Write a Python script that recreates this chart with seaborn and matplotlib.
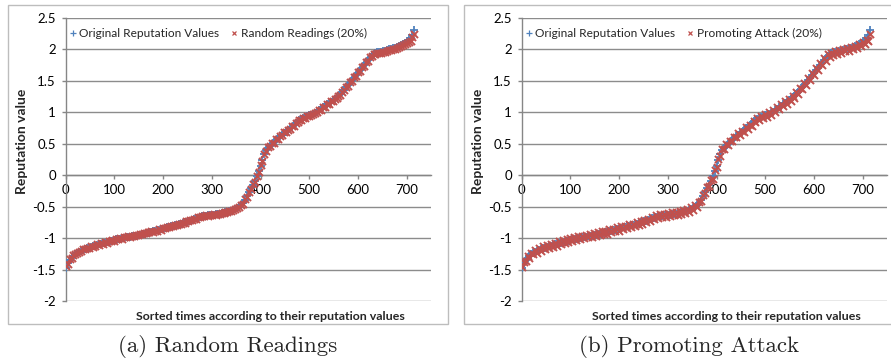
import matplotlib
matplotlib.use("Agg")
import matplotlib.pyplot as plt
from matplotlib.lines import Line2D
from matplotlib.patches import Rectangle
import numpy as np
import pandas as pd
import seaborn as sns

# Sorted reputation values, sampled every 4th ordered position (0..716)
positions = np.arange(0, 720, 4)

original_values = [
    -1.47, -1.40, -1.35, -1.31, -1.28, -1.25, -1.235, -1.22, -1.20, -1.19,
    -1.175, -1.165, -1.15, -1.14, -1.13, -1.12, -1.11, -1.10, -1.09, -1.08,
    -1.07, -1.065, -1.055, -1.045, -1.04, -1.03, -1.02, -1.015, -1.01, -1.00,
    -0.995, -0.99, -0.98, -0.975, -0.97, -0.965, -0.96, -0.95, -0.945, -0.935,
    -0.93, -0.92, -0.915, -0.905, -0.90, -0.89, -0.88, -0.875, -0.865, -0.86,
    -0.85, -0.84, -0.83, -0.825, -0.815, -0.805, -0.795, -0.79, -0.78, -0.77,
    -0.76, -0.75, -0.74, -0.73, -0.72, -0.71, -0.70, -0.685, -0.675, -0.665,
    -0.655, -0.65, -0.645, -0.64, -0.635, -0.63, -0.625, -0.62, -0.615, -0.61,
    -0.605, -0.60, -0.59, -0.585, -0.575, -0.565, -0.555, -0.54, -0.525, -0.505,
    -0.48, -0.44, -0.39, -0.33, -0.27, -0.21, -0.15, -0.09, -0.02, 0.06,
    0.15, 0.24, 0.33, 0.40, 0.44, 0.47, 0.50, 0.53, 0.56, 0.59,
    0.62, 0.645, 0.67, 0.69, 0.72, 0.745, 0.77, 0.80, 0.83, 0.855,
    0.875, 0.89, 0.905, 0.92, 0.935, 0.95, 0.96, 0.975, 0.99, 1.01,
    1.03, 1.05, 1.08, 1.10, 1.13, 1.15, 1.17, 1.19, 1.21, 1.24,
    1.26, 1.29, 1.32, 1.36, 1.40, 1.43, 1.47, 1.51, 1.55, 1.59,
    1.63, 1.67, 1.71, 1.75, 1.79, 1.83, 1.87, 1.90, 1.93, 1.945,
    1.955, 1.96, 1.965, 1.975, 1.98, 1.99, 2.00, 2.01, 2.02, 2.03,
    2.04, 2.05, 2.07, 2.09, 2.11, 2.13, 2.15, 2.18, 2.23, 2.31,
]

random_readings = [
    -1.45, -1.41, -1.34, -1.32, -1.27, -1.26, -1.23, -1.22, -1.21, -1.18,
    -1.18, -1.16, -1.16, -1.13, -1.14, -1.12, -1.10, -1.11, -1.08, -1.09,
    -1.06, -1.07, -1.05, -1.05, -1.03, -1.04, -1.01, -1.02, -1.00, -1.01,
    -0.99, -0.99, -0.97, -0.98, -0.96, -0.97, -0.95, -0.955, -0.94, -0.94,
    -0.92, -0.925, -0.91, -0.91, -0.89, -0.895, -0.88, -0.88, -0.86, -0.865,
    -0.845, -0.845, -0.825, -0.83, -0.81, -0.81, -0.79, -0.795, -0.775, -0.775,
    -0.755, -0.755, -0.735, -0.735, -0.715, -0.715, -0.695, -0.69, -0.67, -0.67,
    -0.65, -0.655, -0.64, -0.645, -0.63, -0.635, -0.62, -0.625, -0.61, -0.615,
    -0.60, -0.605, -0.585, -0.59, -0.57, -0.57, -0.55, -0.545, -0.52, -0.51,
    -0.47, -0.45, -0.38, -0.34, -0.26, -0.22, -0.14, -0.10, -0.01, 0.05,
    0.16, 0.23, 0.34, 0.39, 0.45, 0.46, 0.51, 0.52, 0.57, 0.58,
    0.63, 0.64, 0.68, 0.685, 0.725, 0.74, 0.775, 0.79, 0.835, 0.845,
    0.88, 0.88, 0.91, 0.915, 0.94, 0.945, 0.965, 0.97, 0.995, 1.00,
    1.035, 1.04, 1.085, 1.09, 1.135, 1.14, 1.175, 1.18, 1.215, 1.23,
    1.265, 1.28, 1.325, 1.35, 1.405, 1.42, 1.475, 1.50, 1.555, 1.58,
    1.635, 1.66, 1.715, 1.74, 1.795, 1.82, 1.875, 1.89, 1.92, 1.935,
    1.94, 1.945, 1.95, 1.96, 1.965, 1.975, 1.985, 1.995, 2.005, 2.015,
    2.025, 2.035, 2.05, 2.07, 2.09, 2.10, 2.12, 2.14, 2.19, 2.25,
]

promoting_attack = [
    -1.46, -1.38, -1.37, -1.28, -1.31, -1.23, -1.26, -1.19, -1.23, -1.16,
    -1.20, -1.13, -1.18, -1.11, -1.16, -1.09, -1.14, -1.07, -1.12, -1.05,
    -1.10, -1.03, -1.08, -1.02, -1.06, -1.00, -1.05, -0.98, -1.03, -0.97,
    -1.02, -0.96, -1.00, -0.95, -0.99, -0.93, -0.98, -0.92, -0.97, -0.91,
    -0.95, -0.89, -0.94, -0.88, -0.93, -0.86, -0.91, -0.85, -0.89, -0.83,
    -0.88, -0.81, -0.86, -0.80, -0.84, -0.78, -0.82, -0.77, -0.81, -0.75,
    -0.79, -0.73, -0.77, -0.71, -0.75, -0.69, -0.73, -0.66, -0.70, -0.64,
    -0.68, -0.62, -0.67, -0.61, -0.66, -0.60, -0.65, -0.59, -0.64, -0.58,
    -0.63, -0.57, -0.62, -0.55, -0.60, -0.53, -0.58, -0.51, -0.55, -0.48,
    -0.50, -0.42, -0.41, -0.31, -0.29, -0.19, -0.17, -0.07, -0.06, 0.08,
    0.13, 0.26, 0.31, 0.42, 0.42, 0.49, 0.48, 0.55, 0.54, 0.61,
    0.60, 0.67, 0.64, 0.71, 0.68, 0.76, 0.74, 0.80, 0.78, 0.87,
    0.85, 0.91, 0.88, 0.94, 0.91, 0.97, 0.93, 1.00, 0.96, 1.03,
    1.00, 1.08, 1.05, 1.13, 1.10, 1.18, 1.14, 1.21, 1.18, 1.26,
    1.22, 1.32, 1.29, 1.39, 1.37, 1.46, 1.43, 1.54, 1.51, 1.62,
    1.59, 1.70, 1.67, 1.78, 1.75, 1.86, 1.82, 1.92, 1.88, 1.95,
    1.91, 1.97, 1.93, 1.99, 1.95, 2.01, 1.97, 2.03, 1.98, 2.04,
    2.00, 2.06, 2.02, 2.09, 2.05, 2.12, 2.08, 2.15, 2.14, 2.24,
]

x_ticks = [0, 100, 200, 300, 400, 500, 600, 700]
y_ticks = [-2, -1.5, -1, -0.5, 0, 0.5, 1, 1.5, 2, 2.5]
y_tick_labels = ["-2", "-1.5", "-1", "-0.5", "0", "0.5", "1", "1.5", "2", "2.5"]

panels = [
    ("Random Readings (20%)", random_readings, "(a) Random Readings"),
    ("Promoting Attack (20%)", promoting_attack, "(b) Promoting Attack"),
]

BLUE = "#4F81BD"
RED = "#C0504D"
GRID = "#8C8C8C"
AXIS = "#868686"
FRAME = "#BDBDBD"
UI_FONT = ["Lato", "DejaVu Sans"]

sns.set_theme(style="white")
plt.rcParams["font.family"] = UI_FONT

W, H = 891, 360
fig = plt.figure(figsize=(W / 100, H / 100), dpi=100)

offset_px = 456
for k, (series_name, values, caption) in enumerate(panels):
    dx = k * offset_px
    # outer chart frame
    fig.add_artist(Rectangle(((8 + dx) / W, 1 - 324 / H), 440 / W, 319 / H,
                             transform=fig.transFigure, fill=False,
                             edgecolor=FRAME, linewidth=1.0))
    ax = fig.add_axes([(65.7 + dx) / W, 1 - 301 / H, 365.3 / W, 283 / H])
    df = pd.DataFrame({"pos": positions, "orig": original_values, "other": values})

    sns.scatterplot(data=df, x="pos", y="orig", marker="+", color=BLUE,
                    s=34, linewidth=1.3, ax=ax, zorder=3)
    sns.scatterplot(data=df, x="pos", y="other", marker="x", color=RED,
                    s=26, linewidth=1.4, ax=ax, zorder=4)

    ax.set_xlim(0, 750)
    ax.set_ylim(-2, 2.5)
    ax.set_yticks(y_ticks)
    ax.set_yticklabels(y_tick_labels)
    ax.set_xticks(x_ticks)
    ax.set_xticklabels([str(t) for t in x_ticks])
    for y in y_ticks:
        ax.axhline(y, color=GRID, linewidth=1.0, zorder=1)

    for side in ["top", "right"]:
        ax.spines[side].set_visible(False)
    ax.spines["left"].set_color(AXIS)
    ax.spines["left"].set_linewidth(1.0)
    ax.spines["bottom"].set_position(("data", 0))
    ax.spines["bottom"].set_color(AXIS)
    ax.spines["bottom"].set_linewidth(1.0)
    ax.spines["bottom"].set_zorder(2)

    ax.tick_params(axis="y", direction="out", length=3, width=1.0, color=AXIS,
                   labelsize=9.5, labelcolor="black", pad=4, left=True)
    ax.tick_params(axis="x", direction="out", length=3, width=1.0, color=AXIS,
                   labelsize=9.5, labelcolor="black", pad=3, bottom=True)
    ax.set_xlabel("")
    ax.set_ylabel("")

    handles = [
        Line2D([], [], linestyle="none", marker="+", color=BLUE, markersize=4,
               markeredgewidth=0.9, label="Original Reputation Values"),
        Line2D([], [], linestyle="none", marker="x", color=RED, markersize=3.5,
               markeredgewidth=0.9, label=series_name),
    ]
    ax.legend(handles=handles, loc="upper left", ncol=2, frameon=False,
              fontsize=8.6, handlelength=0.5, handletextpad=0.3,
              columnspacing=1.0, bbox_to_anchor=(-0.012, 0.995), borderaxespad=0.3)

    fig.text((22 + dx) / W, 1 - 141 / H, "Reputation value", rotation=90,
             ha="center", va="center", fontsize=10, fontweight="bold")
    fig.text((270 + dx) / W, 1 - 317 / H,
             "Sorted times according to their reputation values",
             ha="center", va="center", fontsize=8.9, fontweight="bold")
    fig.text((228 + dx + 5 * k) / W, 1 - 346 / H, caption, ha="center",
             va="center", fontsize=16.5, family=["cmr10", "DejaVu Serif"])

fig.savefig("out.png", dpi=100)
